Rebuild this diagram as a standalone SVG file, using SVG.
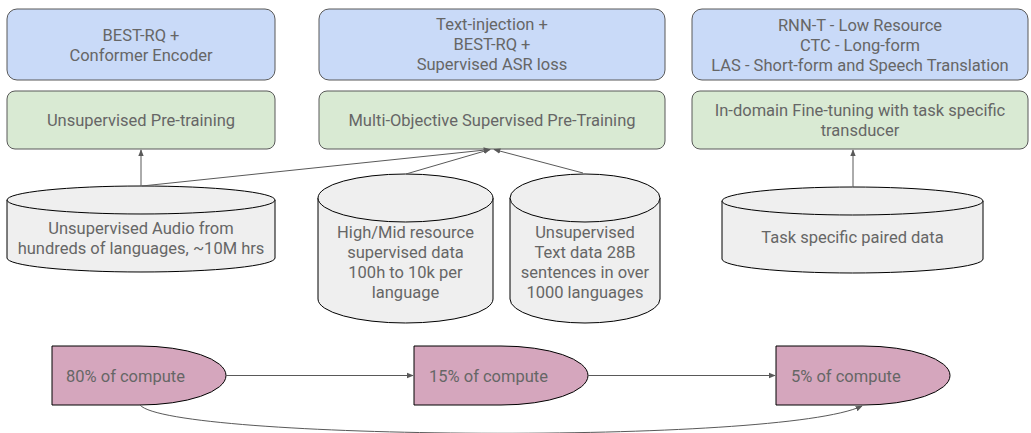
<svg xmlns="http://www.w3.org/2000/svg" width="1031" height="433" viewBox="0 0 1031 433">
<defs>
<style>
.blue{fill:#c9daf8;stroke:#595959;stroke-width:1}
.green{fill:#d9ead3;stroke:#595959;stroke-width:1}
.cyl{fill:#efefef;stroke:#000;stroke-width:1}
.pink{fill:#d5a6bd;stroke:#000;stroke-width:1}
.t{font-family:Roboto,"Liberation Sans",sans-serif;font-size:16.5px;fill:#666}
.c{text-anchor:middle}
.edge{fill:none;stroke:#595959;stroke-width:1;marker-end:url(#ah)}
</style>
<marker id="ah" viewBox="0 0 10 10" refX="9" refY="5" markerWidth="7" markerHeight="7" markerUnits="userSpaceOnUse" orient="auto">
<path d="M0,1 L10,5 L0,9 z" fill="#595959"/>
</marker>
</defs>
<rect width="1031" height="433" fill="#fff"/>

<g id="blue1"><rect class="blue" x="7" y="9" width="268" height="71" rx="10"/>
<text class="t c" x="141" y="41">BEST-RQ +</text><text class="t c" x="141" y="61">Conformer Encoder</text></g>
<g id="blue2"><rect class="blue" x="319" y="9" width="346" height="71" rx="10"/>
<text class="t c" x="492" y="30">Text-injection +</text><text class="t c" x="492" y="50">BEST-RQ +</text><text class="t c" x="492" y="70">Supervised ASR loss</text></g>
<g id="blue3"><rect class="blue" x="692" y="9" width="336" height="71" rx="10"/>
<text class="t c" x="860" y="31">RNN-T - Low Resource</text><text class="t c" x="860" y="51">CTC - Long-form</text><text class="t c" x="860" y="71">LAS - Short-form and Speech Translation</text></g>

<g id="green1"><rect class="green" x="7" y="91" width="268" height="58" rx="8"/>
<text class="t c" x="141" y="126">Unsupervised Pre-training</text></g>
<g id="green2"><rect class="green" x="319" y="91" width="346" height="58" rx="8"/>
<text class="t c" x="492" y="126">Multi-Objective Supervised Pre-Training</text></g>
<g id="green3"><rect class="green" x="692" y="91" width="336" height="58" rx="8"/>
<text class="t c" x="860" y="116">In-domain Fine-tuning with task specific</text><text class="t c" x="860" y="136">transducer</text></g>

<g id="cyl1"><path class="cyl" d="M7,200 A134,14 0 0 1 275,200 L275,258 A134,14 0 0 1 7,258 Z"/><path class="cyl" d="M7,200 A134,14 0 0 0 275,200" fill="none"/>
<text class="t c" x="141" y="234">Unsupervised Audio from</text><text class="t c" x="141" y="254">hundreds of languages, ~10M hrs</text></g>
<g id="cyl2"><path class="cyl" d="M318,198 A87.5,24 0 0 1 493,198 L493,299 A87.5,24 0 0 1 318,299 Z"/><path class="cyl" d="M318,198 A87.5,24 0 0 0 493,198" fill="none"/>
<text class="t c" x="405.5" y="238">High/Mid resource</text><text class="t c" x="405.5" y="258">supervised data</text><text class="t c" x="405.5" y="278">100h to 10k per</text><text class="t c" x="405.5" y="298">language</text></g>
<g id="cyl3"><path class="cyl" d="M510,198 A75,24 0 0 1 660,198 L660,299 A75,24 0 0 1 510,299 Z"/><path class="cyl" d="M510,198 A75,24 0 0 0 660,198" fill="none"/>
<text class="t c" x="585" y="238">Unsupervised</text><text class="t c" x="585" y="258">Text data 28B</text><text class="t c" x="585" y="278">sentences in over</text><text class="t c" x="585" y="298">1000 languages</text></g>
<g id="cyl4"><path class="cyl" d="M722,201 A130.5,14 0 0 1 983,201 L983,259 A130.5,14 0 0 1 722,259 Z"/><path class="cyl" d="M722,201 A130.5,14 0 0 0 983,201" fill="none"/>
<text class="t c" x="852.5" y="243">Task specific paired data</text></g>

<g id="p1"><path class="pink" d="M52,346 L139,346 A87,29.5 0 0 1 139,405 L52,405 Z"/><text class="t" x="66" y="382">80% of compute</text></g>
<g id="p2"><path class="pink" d="M414,346 L501,346 A87,29.5 0 0 1 501,405 L414,405 Z"/><text class="t" x="429" y="382">15% of compute</text></g>
<g id="p3"><path class="pink" d="M776,346 L863,346 A87,29.5 0 0 1 863,405 L776,405 Z"/><text class="t" x="791" y="382">5% of compute</text></g>

<g id="connectors">
<path class="edge" d="M141,186 L141,150"/>
<path class="edge" d="M142,186 L490,149.5"/>
<path class="edge" d="M406,174 L490,149.5"/>
<path class="edge" d="M583,173 L494,149.5"/>
<path class="edge" d="M853,187 L853,150"/>
<path class="edge" d="M226,375.5 L413,375.5"/>
<path class="edge" d="M588,375.5 L775,375.5"/>
<path class="edge" d="M140,405 C170,440 780,445 862,406"/>
</g>
</svg>
